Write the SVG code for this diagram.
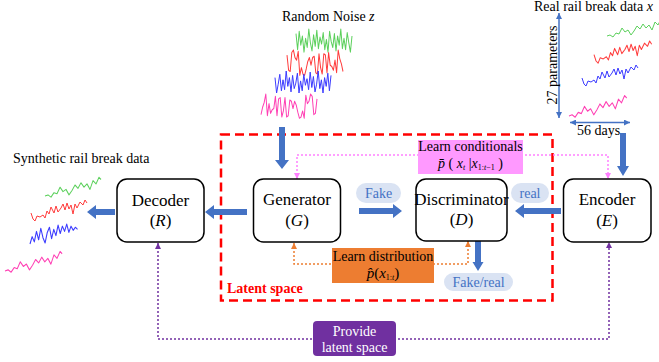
<svg xmlns="http://www.w3.org/2000/svg" xmlns:xlink="http://www.w3.org/1999/xlink" width="659" height="362" viewBox="0 0 659 362">
<style>
text{font-family:"Liberation Serif","Times New Roman",serif;fill:#000}
.node{fill:#fff;stroke:#000;stroke-width:1.5}
.nt{font-size:17px;text-anchor:middle}
.pill{fill:#DAE3F3}
.pt{font-size:14px;text-anchor:middle;fill:#4472C4}
.blk{fill:#4472C4}
.wave{fill:none;stroke-width:1;stroke-linejoin:round}
.g{stroke:#5CD05C}.r{stroke:#FF3B3B}.b{stroke:#3B3BFF}.p{stroke:#FF40B4}
.lbl{font-size:14px}
</style>
<defs>
<marker id="mPink" viewBox="0 0 10 10" refX="10" refY="5" markerWidth="6" markerHeight="6" markerUnits="userSpaceOnUse" orient="auto-start-reverse"><path d="M0,0L10,5L0,10z" fill="#FF80FF"/></marker>
<marker id="mOrange" viewBox="0 0 10 10" refX="10" refY="5" markerWidth="6" markerHeight="6" markerUnits="userSpaceOnUse" orient="auto-start-reverse"><path d="M0,0L10,5L0,10z" fill="#ED7D31"/></marker>
<marker id="mPurple" viewBox="0 0 10 10" refX="10" refY="5" markerWidth="6" markerHeight="6" markerUnits="userSpaceOnUse" orient="auto-start-reverse"><path d="M0,0L10,5L0,10z" fill="#7030A0"/></marker>
<marker id="mBlue" viewBox="0 0 10 10" refX="10" refY="5" markerWidth="6" markerHeight="6" markerUnits="userSpaceOnUse" orient="auto-start-reverse"><path d="M0,0L10,5L0,10z" fill="#4472C4"/></marker>
<path id="nA" d="M0,4.4 1.6,19.8 3.2,2.2 4.8,15.4 6.4,6.6 8,22 9.6,8.8 11.2,17.6 12.8,0 14.4,13.2 16,20.9 17.6,5.5 19.2,16.5 20.8,1.1 22.4,18.7 24,7.7 25.6,14.3 27.2,3.3 28.8,19.8 30.4,9.9 32,22 33.6,2.2 35.2,12.1 36.8,17.6 38.4,4.4 40,20.9 41.6,6.6 43.2,15.4 44.8,0 46.4,18.7 48,8.8 49.6,19.8 51.2,3.3 52.8,13.2 54.4,22 56,6.6"/>
<path id="nB" d="M0,4.4 1.6,17.6 3.2,18.7 4.8,2.2 6.4,0 8,6.6 9.6,8.8 11.2,1.1 12.8,22 14.4,15.4 16,21 17.6,22 19.2,16.5 20.8,9.9 22.4,6.6 24,13.2 25.6,6.6 27.2,5.5 28.8,19.8 30.4,20.9 32,3.3 33.6,15.4 35.2,20.9 36.8,3.3 38.4,4.4 40,19.8 41.6,2.2 43.2,13.2 44.8,14.3 46.4,17.6 48,8.8 49.6,19.8 51.2,0 52.8,7.7 54.4,12.1 56,18.7"/>
<path id="tC" d="M0,20 3,19 6,21 9,17 12,18 15,12 18,16 21,14 24,19 27,15 30,10 33,13 36,8 39,12 42,9 45,14 48,6 51,9 54,3 56,5"/>
<path id="tD" d="M0,14 2,20 4,22 6,17 9,18 12,16 14,19 16,12 18,15 20,8 23,14 25,7 27,13 30,9 32,5 34,11 36,4 38,10 40,6 42,15 44,5 46,9 49,3 52,6 54,1 56,4"/>
<path id="tE" d="M0,20 2,13 4,18 6,8 8,16 10,5 12,14 14,19 16,9 18,4 20,15 22,6 24,12 26,2 28,10 30,3 32,8 34,1 36,9 38,3 40,7 42,4 44,6"/>
</defs>

<g id="latent-space">
<rect x="221" y="134.5" width="331.5" height="166" fill="none" stroke="#FF0000" stroke-width="2.5" stroke-dasharray="9,5"/>
<text x="227" y="293" font-size="14" font-weight="bold" style="fill:#FF0000">Latent space</text>
</g>

<g id="connectors">
<path d="M297,179V155H608V179" fill="none" stroke="#FF80FF" stroke-width="1.5" stroke-dasharray="2,2" marker-start="url(#mPink)" marker-end="url(#mPink)"/>
<path d="M294,243V264H468V241" fill="none" stroke="#ED7D31" stroke-width="1.5" stroke-dasharray="2,2" marker-start="url(#mOrange)" marker-end="url(#mOrange)"/>
<path d="M158,243V339H609V242" fill="none" stroke="#7030A0" stroke-width="1.5" stroke-dasharray="2,2" marker-start="url(#mPurple)" marker-end="url(#mPurple)"/>
<polygon class="blk" points="247,209 214,209 214,205 205,212 214,219 214,215 247,215"/>
<polygon class="blk" points="115,209 96,209 96,205 87,212 96,219 96,215 115,215"/>
<polygon class="blk" points="359,208 393,208 393,204 402,211 393,218 393,214 359,214"/>
<polygon class="blk" points="561,208 524,208 524,204 515,211 524,218 524,214 561,214"/>
<polygon class="blk" points="279,127 279,160 275,160 282,169 289,160 285,160 285,127"/>
<polygon class="blk" points="620,133 620,166 617,166 623,176 629,166 626,166 626,133"/>
<polygon class="blk" points="475,241 475,262 472.5,262 478,271 483.5,262 481,262 481,241"/>
<path d="M559,13V118" stroke="#4472C4" stroke-width="1.5" marker-start="url(#mBlue)" marker-end="url(#mBlue)"/>
<path d="M570,122.5H630" stroke="#4472C4" stroke-width="1.5" marker-start="url(#mBlue)" marker-end="url(#mBlue)"/>
</g>

<g id="decoder">
<rect class="node" x="117" y="179" width="87" height="63" rx="10"/>
<text class="nt" x="160.5" y="206">Decoder</text>
<text class="nt" x="160.5" y="226">(<tspan font-style="italic">R</tspan>)</text>
</g>
<g id="generator">
<rect class="node" x="253.5" y="179" width="87" height="63" rx="10"/>
<text class="nt" x="297" y="205">Generator</text>
<text class="nt" x="297" y="226">(<tspan font-style="italic">G</tspan>)</text>
</g>
<g id="discriminator">
<rect class="node" x="416" y="179" width="91" height="62" rx="10"/>
<text class="nt" x="461.5" y="205" font-size="16">Discriminator</text>
<text class="nt" x="461.5" y="225" font-size="15">(<tspan font-style="italic">D</tspan>)</text>
</g>
<g id="encoder">
<rect class="node" x="563.5" y="179" width="87.5" height="63" rx="10"/>
<text class="nt" x="607" y="205">Encoder</text>
<text class="nt" x="607" y="226">(<tspan font-style="italic">E</tspan>)</text>
</g>
<g id="learn-conditionals">
<rect x="418" y="140" width="105" height="34" fill="#FF99FF"/>
<text class="lbl" x="470.5" y="151" text-anchor="middle">Learn conditionals</text>
<text x="470.5" y="167.5" font-size="14" text-anchor="middle"><tspan font-style="italic">p̄</tspan> ( <tspan font-style="italic">x</tspan><tspan font-size="8" dy="2" font-style="italic">t</tspan><tspan dy="-2"> |</tspan><tspan font-style="italic">x</tspan><tspan font-size="8" dy="2">1:<tspan font-style="italic">t</tspan>−1</tspan><tspan dy="-2"> )</tspan></text>
</g>
<g id="learn-distribution">
<rect x="332" y="248" width="102" height="35" fill="#ED7D31"/>
<text class="lbl" x="383" y="261" text-anchor="middle">Learn distribution</text>
<text x="383" y="278" font-size="15" text-anchor="middle"><tspan font-style="italic">p̂</tspan>(<tspan font-style="italic">x</tspan><tspan font-size="8" dy="2">1:<tspan font-style="italic">t</tspan></tspan><tspan dy="-2">)</tspan></text>
</g>
<g id="fake-pill">
<rect class="pill" x="356" y="183" width="45" height="20" rx="10"/>
<text class="pt" x="378.5" y="197.5">Fake</text>
</g>
<g id="real-pill">
<rect class="pill" x="511" y="183" width="38" height="20" rx="10"/>
<text class="pt" x="530" y="197.5">real</text>
</g>
<g id="fakereal-pill">
<rect class="pill" x="444" y="273" width="69" height="18" rx="9"/>
<text class="pt" x="478.5" y="286.5">Fake/real</text>
</g>
<g id="provide-latent">
<rect x="313" y="321" width="83" height="35" rx="4" fill="#7030A0"/>
<text x="354.5" y="335.5" font-size="14" text-anchor="middle" style="fill:#fff">Provide</text>
<text x="354.5" y="351.5" font-size="14" text-anchor="middle" style="fill:#fff">latent space</text>
</g>

<text class="lbl" x="282" y="21">Random Noise <tspan font-style="italic">z</tspan></text>
<text class="lbl" x="534" y="11">Real rail break data <tspan font-style="italic">x</tspan></text>
<text class="lbl" x="0" y="0" text-anchor="middle" transform="translate(557,65) rotate(-90)">27 parameters</text>
<text class="lbl" x="577" y="135">56 days</text>
<text class="lbl" x="13" y="163">Synthetic rail break data</text>

<g id="noise">
<use xlink:href="#nA" href="#nA" class="wave g" transform="translate(296,29) scale(1,1.05)"/>
<use xlink:href="#nB" href="#nB" class="wave r" transform="translate(287,50) scale(1,1.15)"/>
<use xlink:href="#nA" href="#nA" class="wave b" transform="translate(331,71) scale(-1,1)"/>
<use xlink:href="#nB" href="#nB" class="wave p" transform="translate(317,94) scale(-1,1.1)"/>
</g>
<g id="real-data">
<use xlink:href="#tC" href="#tC" class="wave g" transform="translate(607,16)"/>
<use xlink:href="#tD" href="#tD" class="wave r" transform="translate(594,40) scale(1.03,1.05)"/>
<use xlink:href="#tD" href="#tD" class="wave b" transform="translate(582,64)"/>
<use xlink:href="#tC" href="#tC" class="wave p" transform="translate(569,92) scale(1.03,1.2)"/>
</g>
<g id="synthetic-data">
<use xlink:href="#tC" href="#tC" class="wave g" transform="translate(45,174) scale(1,1.1)"/>
<use xlink:href="#tD" href="#tD" class="wave r" transform="translate(31,199)"/>
<use xlink:href="#tE" href="#tE" class="wave b" transform="translate(30,223) scale(1.08,1.05)"/>
<use xlink:href="#tC" href="#tC" class="wave p" transform="translate(5,248) scale(1.02,1.15)"/>
</g>
</svg>
